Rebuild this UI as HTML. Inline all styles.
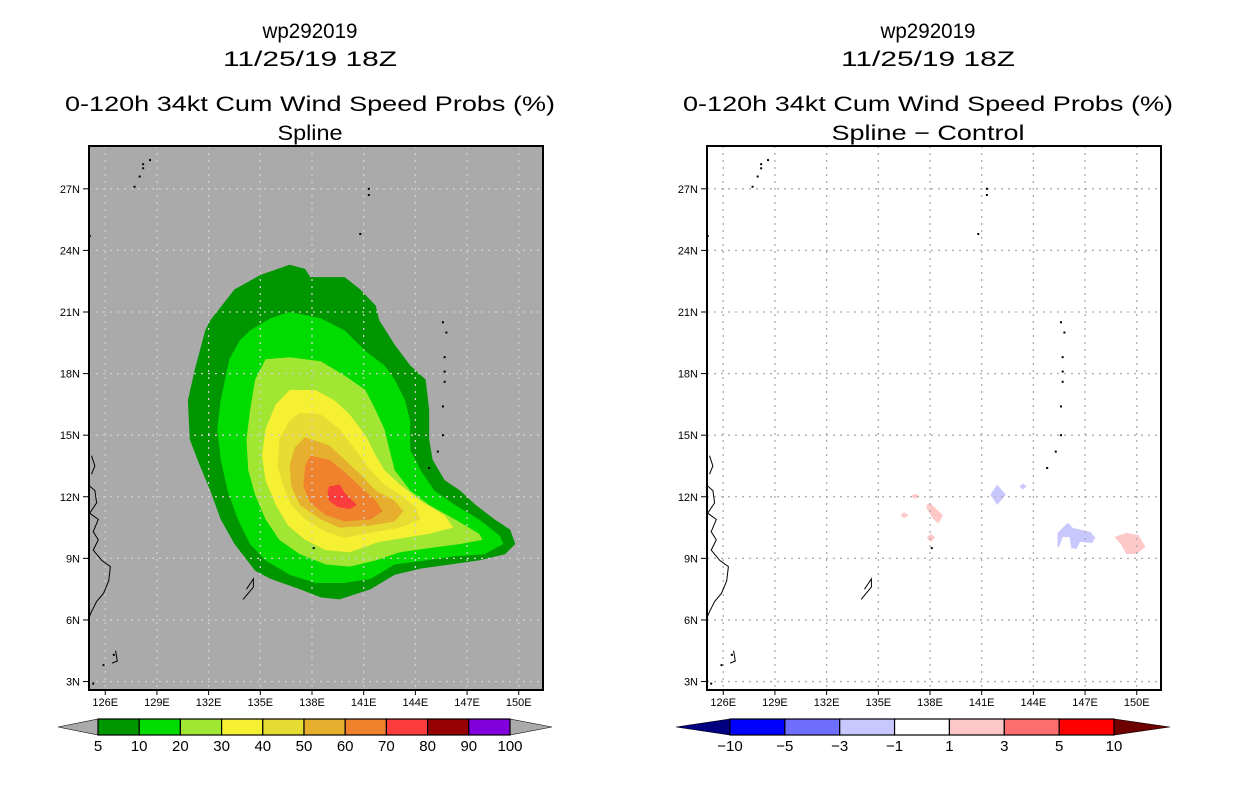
<!DOCTYPE html>
<html><head><meta charset="utf-8"><style>
html,body{margin:0;padding:0;background:#fff;}
svg{display:block;font-family:"Liberation Sans",sans-serif;}
</style></head><body>
<svg id="chart" width="1236" height="800" viewBox="0 0 1236 800" xmlns="http://www.w3.org/2000/svg"></svg>
<script>
// ---- data ----
const lonTicks = [126,129,132,135,138,141,144,147,150];
const latTicks = [3,6,9,12,15,18,21,24,27];
const probLevels = [5,10,20,30,40,50,60,70,80,90,100];
const probColors = ["#009600","#00dc00","#a0e632","#f5f032","#e6dc32","#e6af2d","#f0822d","#fa3c3c","#960000","#8200dc"];
const diffLevels = ["\u221210","\u22125","\u22123","\u22121","1","3","5","10"];
const diffColors = ["#0000ff","#6e6eff","#c8c8ff","#ffffff","#ffc8c8","#ff6e6e","#ff0000"];
const contour5 = [[132.1,20.6],[133.5,22.1],[135.0,22.8],[136.7,23.3],[137.6,23.1],[137.9,22.7],[139.9,22.7],[140.8,22.1],[141.7,21.3],[141.9,20.6],[142.8,19.4],[143.7,18.4],[144.6,17.7],[144.8,16.2],[144.8,14.8],[145.0,13.8],[145.7,12.8],[146.6,12.3],[147.5,11.6],[148.6,10.9],[149.5,10.4],[149.8,9.7],[149.2,9.2],[147.7,8.9],[146.0,8.7],[144.3,8.5],[142.8,8.2],[141.4,7.5],[139.6,7.0],[138.5,7.1],[137.3,7.5],[135.6,8.0],[134.7,8.4],[133.5,9.7],[132.7,10.9],[132.1,12.3],[131.5,13.5],[130.9,14.8],[130.8,16.7],[131.2,18.2],[131.8,20.1]];
const contour10 = [[134.4,20.1],[135.6,20.7],[136.7,21.0],[138.5,20.7],[139.9,20.1],[141.1,19.1],[142.2,18.4],[142.8,17.7],[143.4,16.7],[143.7,15.7],[143.7,14.3],[144.3,13.3],[145.1,12.3],[146.3,11.6],[147.7,10.9],[148.9,10.1],[149.1,9.7],[148.0,9.2],[146.3,9.1],[144.6,8.9],[142.8,8.7],[141.4,8.0],[139.9,7.8],[138.2,7.8],[136.7,8.2],[135.3,8.9],[134.4,9.7],[133.7,10.9],[133.1,12.3],[132.7,13.8],[132.5,15.3],[132.7,16.7],[133.2,18.7],[133.8,19.6]];
const contour20 = [[135.3,18.7],[136.7,18.8],[138.5,18.6],[139.9,17.9],[141.1,17.2],[141.7,16.2],[142.2,15.3],[142.5,14.3],[142.8,13.3],[143.7,12.3],[144.8,11.6],[146.3,10.9],[147.7,10.2],[147.9,9.9],[146.6,9.7],[144.8,9.5],[143.1,9.3],[141.7,8.9],[140.2,8.6],[138.8,8.7],[137.3,9.2],[136.1,9.9],[135.3,10.9],[134.7,12.1],[134.3,13.3],[134.2,14.8],[134.4,16.2],[134.7,17.7]];
const contour30 = [[136.7,17.2],[138.2,17.2],[139.3,16.7],[140.2,16.0],[141.1,15.0],[141.7,14.0],[142.2,13.3],[143.1,12.6],[144.3,11.8],[145.7,11.1],[146.2,10.5],[144.8,10.2],[143.4,10.0],[141.9,9.8],[140.2,9.3],[138.8,9.4],[137.6,9.9],[136.6,10.6],[135.9,11.6],[135.3,12.8],[135.1,14.0],[135.3,15.3],[135.9,16.5]];
const contour40 = [[137.3,16.1],[138.5,16.0],[139.6,15.3],[140.5,14.3],[141.4,13.3],[142.2,12.6],[143.1,12.1],[144.0,11.5],[144.3,10.9],[143.1,10.5],[141.7,10.3],[139.9,10.0],[138.8,10.3],[137.6,10.9],[136.8,11.6],[136.3,12.6],[136.0,13.5],[136.1,14.8],[136.7,15.7]];
const contour50 = [[137.6,14.9],[139.0,14.5],[139.9,13.8],[140.8,13.1],[141.7,12.3],[142.8,11.8],[143.3,11.3],[142.8,10.8],[141.4,10.6],[139.6,10.5],[138.5,10.9],[137.3,11.6],[136.8,12.5],[136.7,13.5],[137.0,14.4]];
const contour60 = [[137.9,14.0],[139.0,13.8],[139.9,13.2],[140.8,12.5],[141.7,11.8],[142.1,11.3],[141.4,10.9],[139.9,10.8],[138.8,11.1],[137.9,11.7],[137.5,12.5],[137.6,13.5]];
const contour70 = [[139.0,12.5],[139.6,12.6],[139.9,12.2],[140.6,11.6],[140.2,11.4],[139.5,11.5],[139.0,11.8],[138.9,12.2]];
const blueBlob1 = [[141.9,12.6],[142.4,12.1],[141.9,11.6],[141.5,12.1]];
const blueBlob2 = [[143.4,12.65],[143.6,12.5],[143.4,12.35],[143.2,12.5]];
const blueBlob3 = [[145.4,9.56],[145.4,10.24],[146.0,10.73],[146.3,10.48],[147.3,10.29],[147.6,10.0],[147.4,9.75],[146.7,9.8],[146.5,9.46],[146.2,9.5],[146.1,10.04],[145.7,10.04],[145.5,9.56]];
const redBlob1 = [[148.7,10.04],[149.4,10.24],[150.1,10.14],[150.5,9.56],[150.0,9.21],[149.4,9.21],[149.1,9.65]];
const redBlob2 = [[137.8,11.6],[138.0,11.7],[138.75,11.1],[138.5,10.7],[138.2,10.9],[137.8,11.45]];
const redBlob3 = [[136.9,12.05],[137.2,12.15],[137.4,12.0],[137.1,11.9]];
const redBlob4 = [[136.3,11.1],[136.5,11.25],[136.75,11.1],[136.5,10.95]];
const redBlob5 = [[137.8,10.0],[138.05,10.2],[138.3,10.0],[138.05,9.8]];
const coast1 = [[125.0,12.6],[125.4,12.3],[125.5,11.7],[125.1,11.2],[125.6,10.9],[125.3,10.3],[125.6,9.9],[125.3,9.4],[125.8,8.9],[126.3,8.6],[126.2,7.9],[125.9,7.3],[125.5,6.9],[125.2,6.4],[125.0,6.0]];
const coast2 = [[125.2,14.0],[125.4,13.5],[125.2,13.1]];
const islands = [[128.6,28.4],[128.2,28.0],[128.0,27.6],[127.7,27.1],[128.2,28.2],[125.1,24.7],[141.3,27.0],[141.3,26.7],[140.8,24.8],[145.6,20.5],[145.8,20.0],[145.7,18.8],[145.7,18.1],[145.7,17.6],[145.6,16.4],[145.6,15.0],[145.3,14.2],[144.8,13.4],[138.1,9.5],[126.5,4.3],[125.9,3.8],[125.3,2.9]];
const ptLines = [[[134.2,7.5],[134.6,8.0],[134.6,7.6],[134.0,7.0]],[[126.6,4.5],[126.7,4.0],[126.4,3.9]]];

// ---- helpers ----
const NS="http://www.w3.org/2000/svg";
const svg=document.getElementById('chart');
function mk(tag,attrs,parent){const e=document.createElementNS(NS,tag);for(const k in attrs)e.setAttribute(k,attrs[k]);(parent||svg).appendChild(e);return e;}
const Y0=312, LAT0=21, PXLAT=20.53, PXLON=17.23;
function yOf(lat){return Y0-(lat-LAT0)*PXLAT;}
function poly(pts,xf){return pts.map(p=>xf(p[0]).toFixed(1)+","+yOf(p[1]).toFixed(1)).join(" ");}

function panel(px0, bg, gridColor, titleLine4, line4W, isDiff){
  const left=px0, right=px0+454, top=146, bottom=690;
  const xOf=lon=>px0+223+(lon-138)*PXLON;
  const cx=px0+221;
  const g=mk('g',{});
  
  
  const titles=[["wp292019",38,95],["11/25/19 18Z",66,174],["0-120h 34kt Cum Wind Speed Probs (%)",111,490],[titleLine4,140,line4W]];
  titles.forEach((t,i)=>{
    const a={x:cx,y:t[1],'text-anchor':'middle','font-size':21,fill:'#000',textLength:t[2],lengthAdjust:'spacingAndGlyphs'};
    const e=mk('text',a,g);e.textContent=t[0];
    
    
  });
  const bgR=mk('rect',{x:left,y:top,width:454,height:544,fill:bg},g);
  
  
  const clipId='clip'+px0;
  const cp=mk('clipPath',{id:clipId},g);mk('rect',{x:left,y:top,width:454,height:544},cp);
  const map=mk('g',{'clip-path':'url(#'+clipId+')'},g);
  
  
  if(!isDiff){
    const cs=[contour5,contour10,contour20,contour30,contour40,contour50,contour60,contour70];
    cs.forEach((c,i)=>{const p=mk('polygon',{points:poly(c,xOf),fill:probColors[i]},map);
      
      });
  } else {
    [[blueBlob1,2],[blueBlob2,2],[blueBlob3,2],[redBlob1,4],[redBlob2,4],[redBlob3,4],[redBlob4,4],[redBlob5,4]].forEach((b,i)=>{
      const p=mk('polygon',{points:poly(b[0],xOf),fill:diffColors[b[1]]},map);
      
      });
  }
  lonTicks.forEach(l=>{const e=mk('line',{x1:xOf(l),x2:xOf(l),y1:top,y2:bottom,stroke:gridColor,'stroke-width':1.3,'stroke-dasharray':'2,5'},map);
    });
  latTicks.forEach(l=>{const e=mk('line',{x1:left,x2:right,y1:yOf(l),y2:yOf(l),stroke:gridColor,'stroke-width':1.3,'stroke-dasharray':'2,5'},map);
    });
  [coast1,coast2].concat(ptLines).forEach(c=>{const e=mk('polyline',{points:poly(c,xOf),fill:'none',stroke:'#000','stroke-width':1},map);
    });
  islands.forEach(p=>{const e=mk('rect',{x:xOf(p[0])-1,y:yOf(p[1])-1,width:2,height:2,fill:'#000'},map);
    });
  const fr=mk('rect',{x:left,y:top,width:454,height:544,fill:'none',stroke:'#000','stroke-width':2},g);
  
  lonTicks.forEach(l=>{mk('line',{x1:xOf(l),x2:xOf(l),y1:bottom,y2:bottom+5,stroke:'#000'},g);
    const t=mk('text',{x:xOf(l),y:bottom+16,'text-anchor':'middle','font-size':11,fill:'#000'},g);t.textContent=l+'E';
    });
  latTicks.forEach(l=>{mk('line',{x1:left-6,x2:left,y1:yOf(l),y2:yOf(l),stroke:'#000'},g);
    const t=mk('text',{x:left-9,y:yOf(l)+4,'text-anchor':'end','font-size':11,fill:'#000'},g);t.textContent=l+'N';
    });
}
panel(89,'#aaaaaa','#cfcfcf','Spline',65,false);
panel(707,'#ffffff','#aaaaaa','Spline \u2212 Control',193,true);

function colorbar(x0,x1,tipL,tipR,colors,labels,triL,triR,name){
  const g=mk('g',{});
  
  
  const yt=719,yb=735,ym=727;
  mk('polygon',{points:`${tipL},${ym} ${x0},${yt} ${x0},${yb}`,fill:triL,stroke:'#000','stroke-width':0.6},g);
  mk('polygon',{points:`${tipR},${ym} ${x1},${yt} ${x1},${yb}`,fill:triR,stroke:'#000','stroke-width':0.6},g);
  const w=(x1-x0)/colors.length;
  colors.forEach((c,i)=>{const r=mk('rect',{x:x0+i*w,y:yt,width:w,height:yb-yt,fill:c,stroke:'#000','stroke-width':1.2},g);
    });
  labels.forEach((l,i)=>{const t=mk('text',{x:x0+i*w,y:yb+16,'text-anchor':'middle','font-size':15,fill:'#000'},g);t.textContent=l;
    });
}
colorbar(98,510,58,552,probColors,probLevels,'#aaaaaa','#aaaaaa','probability-colorbar');
colorbar(730,1114,676,1170,diffColors,diffLevels,'#000080','#6e0000','difference-colorbar');
</script>
</body></html>
